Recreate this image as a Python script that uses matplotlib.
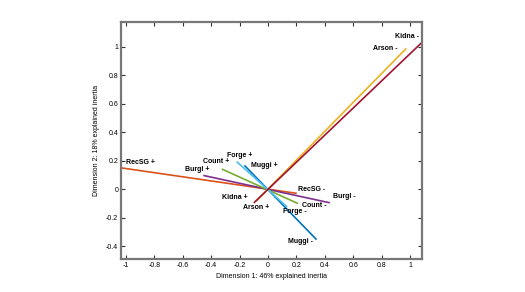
import numpy as np
import matplotlib
matplotlib.use('Agg')
import matplotlib.pyplot as plt

plt.rcParams['font.family'] = ['Liberation Sans', 'DejaVu Sans']

# variables: "+" end and "-" end of each line in (dim1, dim2)
names = ["Muggi", "RecSG", "Arson", "Burgl", "Count", "Forge", "Kidna"]
plus_x = [-0.162, -1.10, -0.08, -0.45, -0.32, -0.216, -0.096]
plus_y = [0.164, 0.160, -0.08, 0.096, 0.14, 0.19, -0.092]
minus_x = [0.338, 0.197, 0.97, 0.43, 0.206, 0.13, 1.15]
minus_y = [-0.35, -0.028, 0.986, -0.094, -0.098, -0.12, 1.095]

# label positions (centre of text)
lab_plus_x = [-0.025, -0.90, -0.083, -0.50, -0.366, -0.197, -0.235]
lab_plus_y = [0.166, 0.19, -0.127, 0.14, 0.194, 0.24, -0.059]
lab_minus_x = [0.232, 0.31, 0.827, 0.539, 0.327, 0.187, 0.979]
lab_minus_y = [-0.37, 0.0, 0.986, -0.054, -0.115, -0.157, 1.073]

colors = ['#0072BD', '#D95319', '#EDB120', '#7E2F8E', '#77AC30', '#4DBEEE', '#A2142F']

fig = plt.figure(figsize=(5.25, 2.92), dpi=100)
ax = fig.add_axes([0.2305, 0.113, 0.5735, 0.812])

for i in range(len(names)):
    ax.plot([plus_x[i], minus_x[i]], [plus_y[i], minus_y[i]], color=colors[i], lw=1.2)
    ax.text(lab_plus_x[i], lab_plus_y[i], names[i] + " +", ha='center', va='center',
            fontsize=5, fontweight='bold')
    ax.text(lab_minus_x[i], lab_minus_y[i], names[i] + " -", ha='center', va='center',
            fontsize=5, fontweight='bold')

ax.set_xlim(-1.035, 1.085)
ax.set_ylim(-0.49, 1.176)
ax.set_xticks([-1, -0.8, -0.6, -0.4, -0.2, 0, 0.2, 0.4, 0.6, 0.8, 1])
ax.set_xticklabels(["-1", "-0.8", "-0.6", "-0.4", "-0.2", "0", "0.2", "0.4", "0.6", "0.8", "1"])
ax.set_yticks([-0.4, -0.2, 0, 0.2, 0.4, 0.6, 0.8, 1])
ax.set_yticklabels(["-0.4", "-0.2", "0", "0.2", "0.4", "0.6", "0.8", "1"])
ax.tick_params(direction='in', top=True, right=True, labelsize=5, length=3,
               color='#333333', width=0.8, pad=2)
for s in ax.spines.values():
    s.set_color('#777777')
    s.set_linewidth(1.6)

ax.set_xlabel("Dimension 1: 46% explained inertia", fontsize=5, labelpad=3)
ax.set_ylabel("Dimension 2: 18% explained inertia", fontsize=5, labelpad=4)

fig.savefig("out.png", dpi=100)
